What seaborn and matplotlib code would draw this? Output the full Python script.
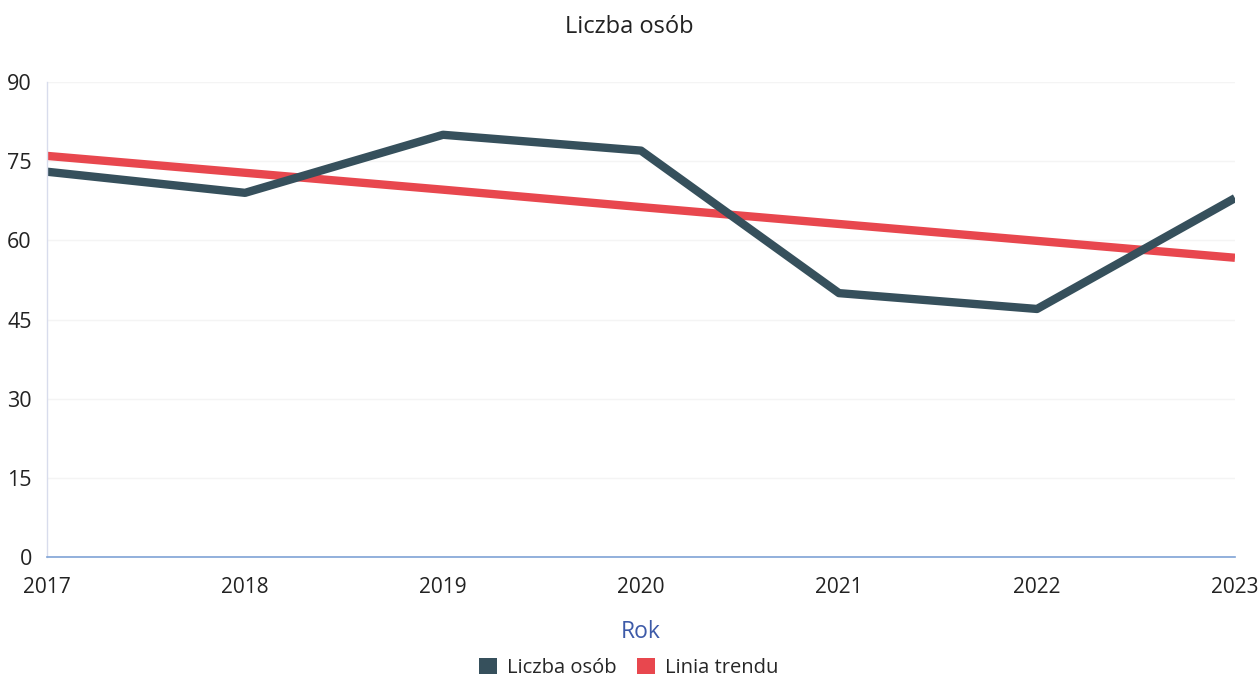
import pandas as pd
import seaborn as sns
import matplotlib.pyplot as plt
from matplotlib.patches import Patch

# values
years = [2017, 2018, 2019, 2020, 2021, 2022, 2023]
liczba_osob = [73, 69, 80, 77, 50, 47, 68]
linia_trendu = [76, 72.8, 69.6, 66.3, 63.1, 59.9, 56.7]
y_ticks = [0, 15, 30, 45, 60, 75, 90]

series_names = ["Liczba osób", "Linia trendu"]
colors = ["#36505c", "#e8474e"]

df = pd.DataFrame({
    "Rok": years * 2,
    "value": liczba_osob + linia_trendu,
    "series": [series_names[0]] * len(years) + [series_names[1]] * len(years),
})

sns.set_style("white")
plt.rcParams["font.family"] = ["Open Sans", "DejaVu Sans"]

fig = plt.figure(figsize=(12.58, 6.81), dpi=100)
ax = fig.add_axes([0.0374, 0.182, 0.9443, 0.6976])

sns.lineplot(data=df, x="Rok", y="value", hue="series", hue_order=series_names[::-1],
             palette=dict(zip(series_names, colors)), linewidth=6,
             solid_capstyle="butt", legend=False, ax=ax)

ax.set_xlim(years[0], years[-1])
ax.set_ylim(0, 90)
ax.set_xticks(years)
ax.set_xticklabels([str(y) for y in years], fontsize=15, color="#222222")
ax.set_yticks(y_ticks)
ax.set_yticklabels([str(t) for t in y_ticks], fontsize=15.5, color="#222222")
ax.tick_params(axis="both", length=0)
ax.tick_params(axis="y", pad=11)
ax.tick_params(axis="x", pad=14)

ax.grid(axis="y", color="#f4f4f4", linewidth=1)
for side in ["top", "right"]:
    ax.spines[side].set_visible(False)
ax.spines["left"].set_color("#d8dcec")
ax.spines["left"].set_linewidth(1)
ax.spines["bottom"].set_color("#7fa3d6")
ax.spines["bottom"].set_linewidth(1.2)

ax.set_xlabel("Rok", fontsize=16.5, color="#3d5aa8", labelpad=16)
ax.set_ylabel("")
fig.suptitle("Liczba osób", y=0.978, fontsize=17, color="#222222")

handles = [Patch(facecolor=c, edgecolor="none") for c in colors]
fig.legend(handles, series_names, loc="center", bbox_to_anchor=(0.5, 0.019),
           ncol=2, frameon=False, fontsize=14.5, handlelength=0.9, handleheight=0.8,
           handletextpad=0.5, columnspacing=1.0)

fig.savefig("out.png", dpi=100)
